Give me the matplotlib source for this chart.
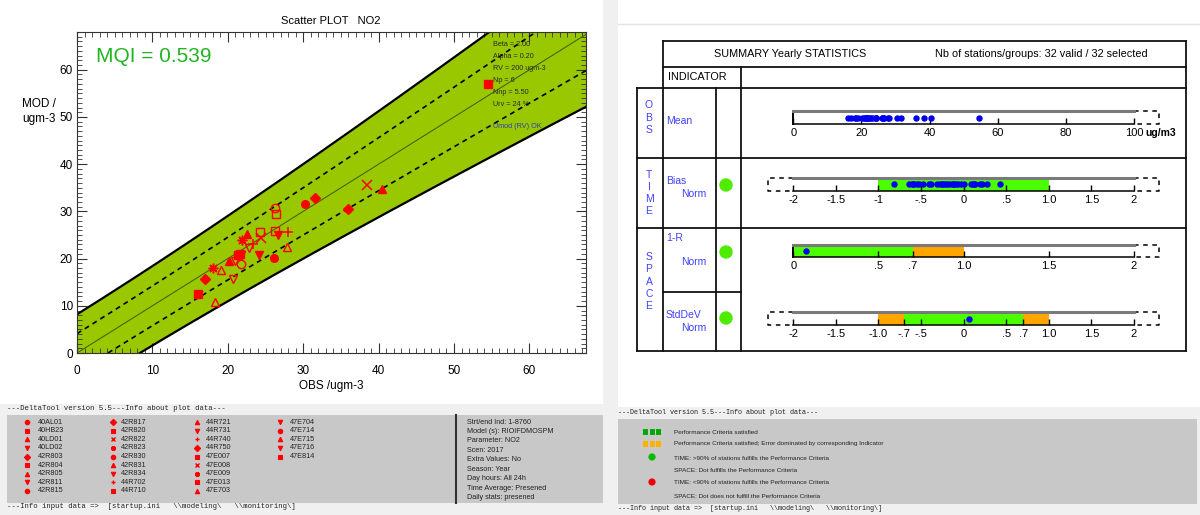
import numpy as np
import matplotlib
matplotlib.use("Agg")
import matplotlib.pyplot as plt
from matplotlib.patches import Rectangle, Circle
from matplotlib.ticker import MultipleLocator

plt.rcParams['font.family'] = ['Liberation Sans', 'DejaVu Sans']

W, H = 1200, 515

# ---------------- data ----------------
stations = ["40AL01", "40HB23", "40LD01", "40LD02", "42R803", "42R804", "42R805", "42R811",
            "42R815", "42R817", "42R820", "42R822", "42R823", "42R830", "42R831", "42R834",
            "44R702", "44R710", "44R721", "44R731", "44R740", "44R750", "47E007", "47E008",
            "47E009", "47E013", "47E703", "47E704", "47E714", "47E715", "47E716", "47E814"]
obs = [26.2, 26.4, 22.5, 26.7, 36.0, 16.0, 18.3, 20.7,
       26.1, 31.5, 21.3, 38.4, 21.9, 21.7, 40.4, 24.2,
       28.0, 24.3, 27.8, 22.8, 23.4, 17.0, 54.5, 24.4,
       18.1, 26.3, 20.1, 21.7, 30.3, 19.1, 21.0, 21.6]
mod = [30.7, 29.4, 25.2, 24.9, 30.4, 12.6, 10.8, 15.7,
       20.1, 32.8, 20.8, 35.5, 24.0, 18.8, 34.8, 20.8,
       25.6, 25.7, 22.5, 22.3, 23.0, 15.7, 57.0, 24.3,
       18.1, 25.8, 19.4, 20.8, 31.6, 17.5, 19.4, 21.0]
symbols = ['o', 's', '^', 'v', 'D', 's', '^', 'v',
           'o', 'D', 's', 'x', '*', 'o', '^', 'v',
           '+', 's', '^', 'v', '+', 'D', 's', 'x',
           '*', 's', '^', 'v', 'o', '^', 'v', 's']
filled = [False, False, True, True, True, True, False, False,
          True, True, True, True, True, False, True, True,
          True, False, False, False, True, True, True, True,
          True, False, True, True, True, False, False, True]

bias_norm = [-0.82, -0.64, -0.61, -0.60, -0.58, -0.55, -0.52, -0.48,
             -0.41, -0.38, -0.31, -0.28, -0.25, -0.24, -0.22, -0.19,
             -0.17, -0.14, -0.12, -0.11, -0.09, -0.06, -0.03, 0.00,
             0.09, 0.11, 0.12, 0.13, 0.19, 0.22, 0.27, 0.43]
r_norm = [0.077]
sd_norm = [0.066]

beta, alpha, rv, n_p, n_np, u_rv = 2.0, 0.20, 200.0, 6.0, 5.5, 0.24
mqi = 0.539

param_lines = ["Beta = 2.00", "Alpha = 0.20", "RV = 200 ugm-3", "Np = 6",
               "Nnp = 5.50", "Urv = 24 %"]
info_lines = ["Strt/end Ind: 1-8760", "Model (s): RIOIFDMOSPM", "Parameter: NO2",
              "Scen: 2017", "Extra Values: No", "Season: Year", "Day hours: All 24h",
              "Time Average: Presened", "Daily stats: presened"]
legend_lines = ["Performance Criteria satisfied",
                "Performance Criteria satisfied; Error dominated by corresponding Indicator",
                "TIME: >90% of stations fulfills the Performance Criteria",
                "SPACE: Dot fulfills the Performance Criteria",
                "TIME: <90% of stations fulfills the Performance Criteria",
                "SPACE: Dot does not fulfill the Performance Criteria"]

BLUE_TXT = '#4040ff'
MONO = ['Liberation Mono', 'DejaVu Sans Mono']


def mk(sym):
    return (8, 2, 0) if sym == '*' else sym


fig = plt.figure(figsize=(12, 5.15), dpi=100, facecolor='#f0f0f0')


def fig_axes(x0, y0, x1, y1):
    return fig.add_axes([x0 / W, 1 - y1 / H, (x1 - x0) / W, (y1 - y0) / H])


# ---------------- background panels ----------------
bg = fig_axes(0, 0, W, H)
bg.set_xlim(0, W)
bg.set_ylim(H, 0)
bg.axis('off')
bg.add_patch(Rectangle((0, 0), 603, 404, color='white', lw=0))
bg.add_patch(Rectangle((618, 0), 582, 407, color='white', lw=0))
bg.plot([618, 1200], [24, 24], color='#e4e4e4', lw=1)
bg.add_patch(Rectangle((7, 415), 596, 88, color='#c8c8c8', lw=0))
bg.add_patch(Rectangle((618, 419), 579, 85, color='#c8c8c8', lw=0))

# ---------------- scatter plot ----------------
sc = fig_axes(77, 32, 586, 353)
o = np.linspace(0, 75, 500)
u = u_rv * np.sqrt((1 - alpha ** 2) * o ** 2 / n_p + alpha ** 2 * rv ** 2 / n_np)
sc.fill_between(o, o - beta * u, o + beta * u, color='#99c700', lw=0)
sc.plot(o, o + beta * u, color='k', lw=1.6)
sc.plot(o, o - beta * u, color='k', lw=1.6)
sc.plot(o, o + beta * u / 2, color='k', lw=1.2, ls=(0, (3, 2.5)))
sc.plot(o, o - beta * u / 2, color='k', lw=1.2, ls=(0, (3, 2.5)))
sc.plot(o, o, color='#3d5c00', lw=0.7)

for xo, ym, sym, f in zip(obs, mod, symbols, filled):
    if sym in ('x', '+', '*'):
        sc.plot(xo, ym, marker=mk(sym), color='red', ms=7, mew=1.1, ls='none', zorder=5)
    else:
        sc.plot(xo, ym, marker=sym, ms=6 if not f else 5.5, mec='red',
                mfc='red' if f else 'none', mew=1.0, ls='none', zorder=5)

sc.set_xlim(0, 67.5)
sc.set_ylim(0, 68)
sc.xaxis.set_major_locator(MultipleLocator(10))
sc.yaxis.set_major_locator(MultipleLocator(10))
sc.xaxis.set_minor_locator(MultipleLocator(1))
sc.yaxis.set_minor_locator(MultipleLocator(1))
sc.tick_params(which='both', direction='in', top=True, right=True, color='#333333')
sc.tick_params(which='major', length=7, width=0.8, labelsize=8.5)
sc.tick_params(axis='x', which='major', pad=9)
sc.tick_params(axis='y', which='major', pad=3)
sc.tick_params(which='minor', length=3.5, width=0.6)
for s in sc.spines.values():
    s.set_linewidth(0.8)
    s.set_color('#333333')

# ---------------- summary strips ----------------
def strip(y0, y1, lo, hi, ticks, labels, dots, bands=(), ext_left=None, ext_right=None,
          left_edge=False):
    ax = fig_axes(793.3, y0, 1133.9, y1)
    ax.set_xlim(lo, hi)
    ax.set_ylim(0, 1)
    ax.patch.set_alpha(0)
    for a, b, c in bands:
        ax.axvspan(a, b, color=c, lw=0)
    ax.plot(dots, [0.5] * len(dots), 'o', color='#0000ee', ms=3.6, ls='none', clip_on=False)
    ax.spines['top'].set_color('#7a7a7a')
    ax.spines['top'].set_linewidth(2.2)
    ax.spines['bottom'].set_linewidth(1.1)
    ax.spines['right'].set_visible(False)
    ax.spines['left'].set_visible(left_edge)
    ax.spines['left'].set_linewidth(1.4)
    dash = (0, (3, 3))
    if ext_left is not None:
        ax.plot([lo, ext_left, ext_left, lo], [1, 1, 0, 0], color='k', lw=1.1, ls=dash,
                clip_on=False)
    if ext_right is not None:
        ax.plot([hi, ext_right, ext_right, hi], [1, 1, 0, 0], color='k', lw=1.1, ls=dash,
                clip_on=False)
    ax.set_xticks(ticks, labels)
    ax.set_yticks([])
    ax.tick_params(axis='x', direction='in', length=4, width=1, labelsize=8, pad=3)
    return ax


strip(111, 124, 0, 100, [0, 20, 40, 60, 80, 100], ['0', '20', '40', '60', '80', '100'],
      obs, ext_right=107.5, left_edge=True)
strip(178, 191, -2, 2, [-2, -1.5, -1, -0.5, 0, 0.5, 1, 1.5, 2],
      ['-2', '-1.5', '-1', '-.5', '0', '.5', '1.0', '1.5', '2'], bias_norm,
      bands=[(-1, 1, '#4cff00')], ext_left=-2.3, ext_right=2.3)
strip(245, 257, 0, 2, [0, 0.5, 0.7, 1, 1.5, 2], ['0', '.5', '.7', '1.0', '1.5', '2'], r_norm,
      bands=[(0, 0.7, '#4cff00'), (0.7, 1.0, '#ffa500')], ext_right=2.15, left_edge=True)
strip(312, 325, -2, 2, [-2, -1.5, -1, -0.7, -0.5, 0, 0.5, 0.7, 1, 1.5, 2],
      ['-2', '-1.5', '-1.0', '-.7', '-.5', '0', '.5', '.7', '1.0', '1.5', '2'], sd_norm,
      bands=[(-1, -0.7, '#ffa500'), (-0.7, 0.7, '#4cff00'), (0.7, 1.0, '#ffa500')],
      ext_left=-2.3, ext_right=2.3)

# ---------------- overlay: text, table, legends ----------------
ov = fig_axes(0, 0, W, H)
ov.set_xlim(0, W)
ov.set_ylim(H, 0)
ov.axis('off')
ov.patch.set_alpha(0)

# scatter annotations
ov.text(331, 21, "Scatter PLOT   NO2", ha='center', va='center', fontsize=8)
ov.text(96, 57, f"MQI = {mqi:.3f}", ha='left', va='center', fontsize=15, color='#22b422')
ov.text(39, 104, "MOD /", ha='center', va='center', fontsize=8.5)
ov.text(39, 119, "ugm-3", ha='center', va='center', fontsize=8.5)
ov.text(331, 386, "OBS /ugm-3", ha='center', va='center', fontsize=8.5)
for i, (s, yy) in enumerate(zip(param_lines, [44, 57, 69, 80, 92, 104])):
    ov.text(493, yy, s, ha='left', va='center', fontsize=5.2, color='#2a2a2a')
ov.text(493, 127, "Umod (RV) OK", ha='left', va='center', fontsize=5.2, color='#3040b0')

# table frame
lines_h = [(41, 663, 1186), (67, 663, 1186), (88, 637, 1186), (158, 637, 1186),
           (228, 637, 1186), (292, 663, 741), (351, 637, 1186)]
lines_v = [(637, 88, 351), (663, 41, 351), (716, 88, 351), (741, 67, 351), (1186, 41, 351)]
for y, xa, xb in lines_h:
    ov.plot([xa, xb], [y, y], color='#111111', lw=1.3, solid_capstyle='projecting')
for x, ya, yb in lines_v:
    ov.plot([x, x], [ya, yb], color='#111111', lw=1.3, solid_capstyle='projecting')

ov.text(790, 54, "SUMMARY Yearly STATISTICS", ha='center', va='center', fontsize=7.8)
ov.text(1041, 54, f"Nb of stations/groups: {len(stations)} valid / {len(stations)} selected",
        ha='center', va='center', fontsize=7.8)
ov.text(668, 77, "INDICATOR", ha='left', va='center', fontsize=7.8)

for word, y0 in [("OBS", 105.5), ("TIME", 174.5), ("SPACE", 257)]:
    for k, ch in enumerate(word):
        ov.text(649, y0 + k * 12.3, ch, ha='center', va='center', fontsize=7.5, color=BLUE_TXT)

ov.text(666, 121, "Mean", ha='left', va='center', fontsize=7.5, color=BLUE_TXT)
for name, y_name, y_norm in [("Bias", 181, 194), ("1-R", 238, 262), ("StdDeV", 315, 328)]:
    ov.text(666, y_name, name, ha='left', va='center', fontsize=7.5, color=BLUE_TXT)
    ov.text(681, y_norm, "Norm", ha='left', va='center', fontsize=7.5, color=BLUE_TXT)
for yc in (185, 252, 318):
    ov.add_patch(Circle((726, yc), 6.7, color='#50ec00', lw=0))
ov.text(1161, 133, "ug/m3", ha='center', va='center', fontsize=7.5, fontweight='bold')

# bottom-left info panel
ov.text(7, 409, "---DeltaTool version 5.5---Info about plot data---", ha='left',
        va='center', fontsize=5.2, family=MONO, color='#222222')
icon_x = [27, 113, 196.5, 280]
text_x = [38, 121, 206, 290]
for i, (st, sym, f) in enumerate(zip(stations, symbols, filled)):
    col, row = divmod(i, 9)
    yy = 422.3 + row * 8.55
    if sym in ('x', '+', '*'):
        ov.plot(icon_x[col], yy, marker=mk(sym), color='red', ms=3.5, mew=1.0, ls='none')
    else:
        ov.plot(icon_x[col], yy, marker=sym, ms=3.2, mec='red', mfc='red', mew=0.8, ls='none')
    ov.text(text_x[col], yy, st, ha='left', va='center', fontsize=5.2, color='#222222')
ov.plot([456, 456], [415, 503], color='#333333', lw=1.5)
for k, s in enumerate(info_lines):
    ov.text(467, 422 + k * 9.45, s, ha='left', va='center', fontsize=5.2, color='#222222')
ov.text(7, 507, "---Info input data =>  [startup.ini   \\\\modeling\\   \\\\monitoring\\]",
        ha='left', va='center', fontsize=5.2, family=MONO, color='#222222')

# bottom-right legend panel
ov.text(618, 413, "---DeltaTool version 5.5---Info about plot data---", ha='left',
        va='center', fontsize=4.9, family=MONO, color='#222222')
for k in range(3):
    ov.add_patch(Rectangle((643 + k * 6.6, 429), 5.2, 5.6, color='#00a800', lw=0))
    ov.add_patch(Rectangle((643 + k * 6.6, 441), 5.2, 5.6, color='#ffb000', lw=0))
ov.add_patch(Circle((652, 457), 3.6, color='#00bb00', lw=0))
ov.add_patch(Circle((652, 482), 3.6, color='#ee0000', lw=0))
for s, yy in zip(legend_lines, [432, 444, 458, 470, 483, 497]):
    ov.text(674, yy, s, ha='left', va='center', fontsize=4.6, color='#222222')
ov.text(618, 508, "---Info input data =>  [startup.ini   \\\\modeling\\   \\\\monitoring\\]",
        ha='left', va='center', fontsize=4.9, family=MONO, color='#222222')

fig.savefig("out.png", dpi=100, facecolor=fig.get_facecolor())
